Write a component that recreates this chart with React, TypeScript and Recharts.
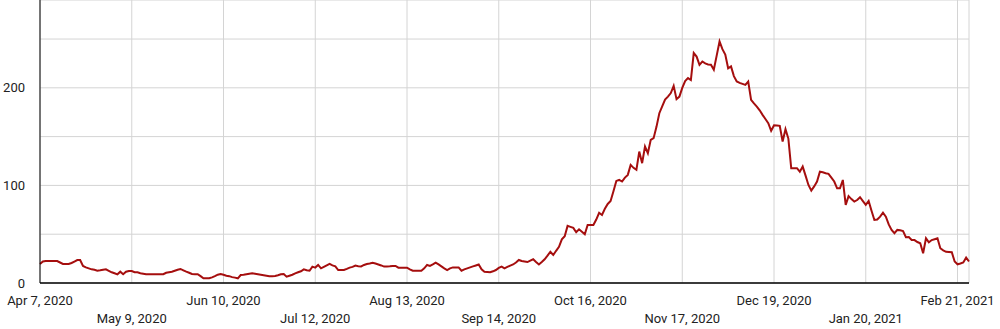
import React from "react";
import { LineChart, Line, XAxis, YAxis, CartesianGrid } from "recharts";

// daily values, starting Apr 7, 2020
const values: number[] = [
  19.5, 22, 22.5, 22.5, 22.5, 22.5, 22.5, 21, 19.5, 19.5,
  19.5, 20.5, 22, 23.5, 23.6, 17.4, 16, 15, 14, 13.5,
  12.6, 13, 13.5, 14, 12.5, 11, 10, 8.9, 11.6, 9,
  11.5, 12.3, 12.3, 11, 11, 10, 9.5, 8.9, 8.9, 8.9,
  8.9, 8.9, 9, 9, 10.5, 11, 11.5, 12.5, 13.5, 14.4,
  13, 11.6, 10.5, 9.2, 9, 9, 7, 4.8, 4.8, 4.8,
  5.8, 7, 8.5, 9.2, 8.5, 7.5, 7, 6, 5.5, 4.8,
  8.2, 8.5, 9, 9.5, 9.9, 9.5, 9, 8.5, 8, 7.5,
  7, 7, 7.2, 8, 9, 9.2, 6.5, 7.5, 8.5, 9.9,
  11, 12, 14, 13, 12.6, 16.8, 15.8, 18.5, 15, 16.5,
  18, 19.5, 18, 17, 13.3, 13.3, 13.3, 14.5, 15.8, 16.5,
  17.8, 17.2, 17, 18.5, 19.5, 20, 20.8, 20, 19, 18,
  16.8, 17, 17.2, 17.5, 17.5, 15.7, 15.7, 15.7, 15.7, 14,
  12.6, 12.6, 12.6, 12.6, 15, 18.5, 17.5, 19, 20.8, 19,
  17, 15, 13.3, 15, 16, 16, 16, 12.6, 14, 15,
  16, 17, 18, 19, 14, 11.6, 11.3, 11, 12, 13.3,
  15.5, 16.8, 15, 16.5, 17.8, 19, 21, 23.6, 22.5, 22,
  21.5, 23, 24.3, 21.5, 19, 21.5, 24.3, 28, 32, 28.7,
  33, 37, 44.8, 48, 58.5, 57.5, 56.5, 52, 55, 52.5,
  50, 59.5, 59.5, 59.5, 65, 72, 69.7, 76, 81, 84,
  94, 104.6, 105.6, 104, 108, 110.8, 121, 118, 116, 134.7,
  122.8, 139.8, 133, 146.7, 148.4, 160, 174, 181, 188, 191,
  194.6, 202, 188.4, 191, 200, 207, 210, 208, 235.6, 232,
  223.6, 227, 225, 224, 223.6, 218.5, 233, 247.5, 239.6, 234,
  220, 222, 212, 206.5, 205, 204, 203, 206.5, 187.7, 184,
  180.8, 177, 172.3, 168, 163.8, 156, 161.6, 161.5, 161, 145,
  157.6, 148, 117.6, 117.6, 117.6, 114, 119.3, 110, 100.5, 94.7,
  99, 104, 114, 113.5, 112.5, 111.8, 108, 104, 97, 97,
  105.6, 80, 89, 86, 83.4, 85, 87.9, 84, 80, 84,
  74, 64.6, 65, 68, 72, 68, 60, 54.4, 51, 54.4,
  54, 53.3, 46.9, 47, 44, 44, 42, 40.7, 30.5, 45.8,
  41.7, 44, 44.9, 45.8, 35.6, 33.5, 32, 31.8, 31.5, 22,
  19.2, 20, 21, 26, 22,
];

const xTicks = [0, 32, 64, 96, 128, 160, 192, 224, 256, 288, 320];
const xTickLabels = [
  "Apr 7, 2020",
  "May 9, 2020",
  "Jun 10, 2020",
  "Jul 12, 2020",
  "Aug 13, 2020",
  "Sep 14, 2020",
  "Oct 16, 2020",
  "Nov 17, 2020",
  "Dec 19, 2020",
  "Jan 20, 2021",
  "Feb 21, 2021",
];
const yTicks = [0, 50, 100, 150, 200, 250];
const yLabelTicks = [0, 100, 200];

const data = values.map((v, i) => ({ day: i, value: v }));

const font = "Roboto, sans-serif";

function DateTick(props: any) {
  const { x, y, payload, index } = props;
  const i = index ?? xTicks.indexOf(payload.value);
  return (
    <text
      x={x}
      y={y + (i % 2 === 0 ? 20 : 38)}
      textAnchor="middle"
      fontSize={13}
      fontFamily={font}
      fill="#222"
    >
      {xTickLabels[i]}
    </text>
  );
}

export default function App() {
  return (
    <div style={{ position: "absolute", left: 0, top: 0, background: "#fff" }}>
      <LineChart
        width={1000}
        height={329}
        data={data}
        margin={{ top: 0, right: 31, bottom: 0, left: 0 }}
      >
        <CartesianGrid stroke="#d4d4d4" strokeWidth={1} />
        <XAxis
          dataKey="day"
          type="number"
          domain={[0, 324]}
          ticks={xTicks}
          interval={0}
          height={46}
          tickSize={0}
          tickLine={false}
          tick={<DateTick />}
          axisLine={{ stroke: "#000", strokeWidth: 1.5 }}
        />
        <YAxis
          type="number"
          domain={[0, 290]}
          ticks={yTicks}
          interval={0}
          width={40}
          tickSize={0}
          tickMargin={15}
          tickLine={false}
          axisLine={{ stroke: "#000", strokeWidth: 1 }}
          tickFormatter={(v: number) => (yLabelTicks.includes(v) ? String(v) : "")}
          tick={{ fontSize: 13, fontFamily: font, fill: "#222" }}
        />
        <Line
          type="linear"
          dataKey="value"
          stroke="#a50e0e"
          strokeWidth={2}
          dot={false}
          isAnimationActive={false}
        />
      </LineChart>
    </div>
  );
}
